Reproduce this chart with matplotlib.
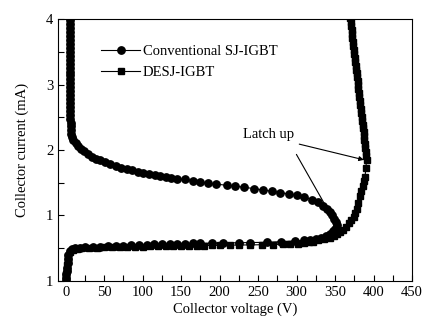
import matplotlib
matplotlib.use("Agg")
import matplotlib.pyplot as plt
from matplotlib.ticker import MultipleLocator, FixedLocator, FixedFormatter

plt.rcParams['font.family'] = ['Liberation Serif', 'DejaVu Serif']

# Conventional SJ-IGBT (circles), in sweep order
conv_v = [0, 0.5, 1, 1.5, 2, 2.5, 3, 3.5, 5, 8, 12, 18,
          25, 35, 45, 55, 65, 75, 85, 95, 105, 115, 125, 135, 145, 155, 165,
          175, 190, 205, 225, 240, 262, 280, 298, 310, 318, 325, 332, 338,
          343, 347, 350, 352, 351, 349, 346, 343, 339, 334, 328, 320, 310,
          300, 290, 278, 268, 256, 245, 232, 220, 210, 195, 185, 175, 165,
          155, 145, 137, 130, 122, 116, 108, 100, 94, 86, 80, 72, 65, 58,
          51, 45, 39, 34, 29, 24, 20, 16, 13, 10, 8, 7, 6.5, 6.4, 6.3, 6.2,
          6.1, 6.0, 5.9, 5.8, 5.8, 5.7, 5.6, 5.6, 5.5, 5.5, 5.4, 5.4, 5.3,
          5.3, 5.2, 5.2, 5.2, 5.1, 5.1, 5.1, 5.0, 5.0, 5.0, 5.0, 5.0, 5.0]
conv_i = [0, 0.05, 0.1, 0.15, 0.2, 0.27, 0.34, 0.4, 0.45, 0.48, 0.5, 0.51,
          0.515, 0.52, 0.525, 0.53, 0.535, 0.54, 0.545, 0.55, 0.555, 0.56,
          0.562, 0.565, 0.567, 0.57, 0.572, 0.575, 0.577, 0.58, 0.583, 0.586,
          0.59, 0.6, 0.61, 0.62, 0.63, 0.64, 0.66, 0.69, 0.72, 0.76, 0.8,
          0.85, 0.9, 0.95, 1.0, 1.05, 1.1, 1.15, 1.2, 1.24, 1.28, 1.31, 1.33,
          1.35, 1.37, 1.39, 1.41, 1.43, 1.45, 1.46, 1.48, 1.49, 1.51, 1.53,
          1.55, 1.56, 1.57, 1.59, 1.6, 1.62, 1.63, 1.65, 1.67, 1.69, 1.71,
          1.73, 1.76, 1.78, 1.81, 1.84, 1.87, 1.9, 1.94, 1.98, 2.02, 2.06,
          2.1, 2.15, 2.2, 2.25, 2.3, 2.36, 2.42, 2.48, 2.54, 2.6, 2.66, 2.72,
          2.78, 2.84, 2.9, 2.96, 3.02, 3.08, 3.14, 3.2, 3.26, 3.32, 3.38,
          3.44, 3.5, 3.56, 3.62, 3.68, 3.74, 3.8, 3.86, 3.92, 3.98, 4.04]

# DESJ-IGBT (squares)
desj_v = [0, 0.5, 1, 1.5, 2, 2.5, 3, 5, 9, 14, 20, 30, 40, 50, 60, 70, 80,
          90, 100, 110, 120, 130, 140, 150, 160, 170, 180, 190, 200, 213,
          225, 240, 255, 270, 282, 292, 302, 310, 316, 321, 328, 335, 343,
          348, 353, 357, 360, 364, 368, 371, 374, 376, 378, 380, 382, 384,
          386, 387.5, 389, 390, 391, 390.5, 390, 389.4, 388.8, 388.2, 387.6,
          387, 386.4, 385.8, 385.2, 384.6, 384, 383.4, 382.8, 382.2, 381.6,
          381, 380.4, 379.8, 379.2, 378.6, 378, 377.4, 376.8, 376.2, 375.6,
          375, 374.4, 373.8, 373.2, 372.6, 372, 371.4, 370.8, 370.2, 369.6]
desj_i = [0, 0.05, 0.1, 0.17, 0.24, 0.31, 0.38, 0.44, 0.47, 0.49, 0.5,
          0.505, 0.51, 0.512, 0.515, 0.517, 0.52, 0.522, 0.524, 0.526, 0.528,
          0.53, 0.532, 0.534, 0.536, 0.538, 0.54, 0.542, 0.544, 0.546, 0.548,
          0.55, 0.553, 0.556, 0.56, 0.565, 0.57, 0.58, 0.59, 0.6, 0.62, 0.64,
          0.66, 0.69, 0.72, 0.75, 0.78, 0.83, 0.88, 0.93, 0.98, 1.04, 1.1,
          1.19, 1.29, 1.37, 1.45, 1.52, 1.59, 1.72, 1.85, 1.91, 1.97, 2.03,
          2.09, 2.15, 2.21, 2.27, 2.33, 2.39, 2.45, 2.51, 2.57, 2.63, 2.69,
          2.75, 2.81, 2.87, 2.93, 2.99, 3.05, 3.11, 3.17, 3.23, 3.29, 3.35,
          3.41, 3.47, 3.53, 3.59, 3.65, 3.71, 3.77, 3.83, 3.89, 3.95, 4.01]

y_ticks = [0, 1, 2, 3, 4]
y_labels = ['1', '1', '2', '3', '4']

fig = plt.figure(figsize=(4.43, 3.36), dpi=100)
ax = fig.add_axes([0.131, 0.164, 0.799, 0.779])

ax.plot(conv_v, conv_i, '-o', color='black', lw=0.8, ms=5.3,
        label='Conventional SJ-IGBT')
ax.plot(desj_v, desj_i, '-s', color='black', lw=0.8, ms=4.8,
        label='DESJ-IGBT')

ax.set_xlim(-10, 450)
ax.set_ylim(0, 4)
ax.xaxis.set_major_locator(MultipleLocator(50))
ax.xaxis.set_minor_locator(MultipleLocator(25))
ax.yaxis.set_major_locator(FixedLocator(y_ticks))
ax.yaxis.set_major_formatter(FixedFormatter(y_labels))
ax.yaxis.set_minor_locator(MultipleLocator(0.5))
ax.tick_params(which='both', direction='in', top=False, right=False,
               labelsize=10.5)
ax.tick_params(which='major', length=4, width=0.8)
ax.tick_params(which='minor', length=4, width=0.8)

ax.set_xlabel('Collector voltage (V)', fontsize=10.5, labelpad=3)
ax.set_ylabel('Collector current (mA)', fontsize=10.5, labelpad=12)

ax.legend(loc='upper left', bbox_to_anchor=(0.105, 0.925), frameon=False,
          fontsize=10.5, handlelength=2.7, handletextpad=0.15,
          labelspacing=0.55, borderaxespad=0)

ax.text(264, 2.23, 'Latch up', fontsize=10.5, ha='center', va='center')
ax.annotate('', xy=(391, 1.84), xytext=(300, 2.1),
            arrowprops=dict(arrowstyle='-|>', color='black', lw=0.8,
                            mutation_scale=7))
ax.annotate('', xy=(341, 1.08), xytext=(298, 1.97),
            arrowprops=dict(arrowstyle='-', color='black', lw=0.8))

fig.savefig('out.png', dpi=100)
